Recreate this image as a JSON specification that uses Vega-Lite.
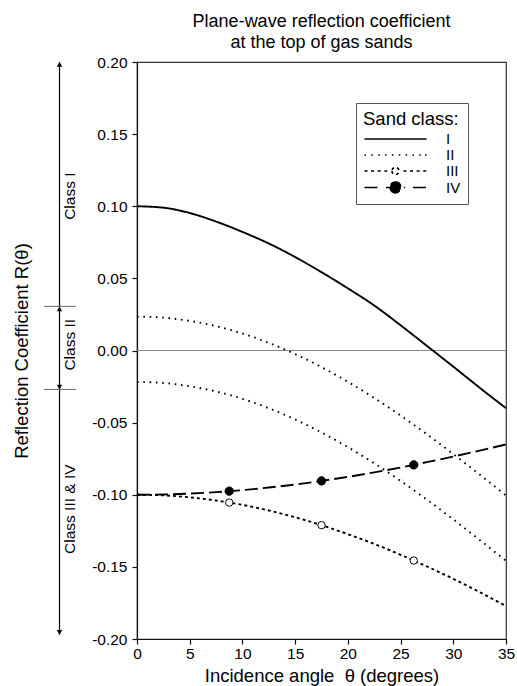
{
  "$schema": "https://vega.github.io/schema/vega-lite/v6.json",
  "width": 369,
  "height": 577,
  "autosize": {"type": "none"},
  "padding": {"left": 137, "top": 62, "right": 11, "bottom": 47},
  "background": "white",
  "title": {
    "text": ["Plane-wave reflection coefficient", "at the top of gas sands"],
    "anchor": "middle",
    "frame": "group",
    "fontSize": 18,
    "fontWeight": "normal",
    "font": "Liberation Sans",
    "color": "black",
    "lineHeight": 21,
    "offset": 3
  },
  "config": {
    "font": "Liberation Sans",
    "view": {"stroke": "#333", "strokeWidth": 1.2},
    "axis": {
      "grid": false,
      "domainColor": "#111",
      "domainWidth": 1.2,
      "tickColor": "#111",
      "tickSize": 5,
      "tickWidth": 1.2,
      "labelFont": "Liberation Sans",
      "labelFontSize": 15.5,
      "labelColor": "black",
      "titleFont": "Liberation Sans",
      "titleFontSize": 18.5,
      "titleFontWeight": "normal",
      "titleColor": "black"
    }
  },
  "datasets": {
    "curves": [
      {"curve": "I", "class": "I", "theta": 0, "r": 0.1},
      {"curve": "I", "class": "I", "theta": 2.5, "r": 0.099},
      {"curve": "I", "class": "I", "theta": 5, "r": 0.0953},
      {"curve": "I", "class": "I", "theta": 7.5, "r": 0.0894},
      {"curve": "I", "class": "I", "theta": 10, "r": 0.0822},
      {"curve": "I", "class": "I", "theta": 12.5, "r": 0.0742},
      {"curve": "I", "class": "I", "theta": 15, "r": 0.0648},
      {"curve": "I", "class": "I", "theta": 17.5, "r": 0.0543},
      {"curve": "I", "class": "I", "theta": 20, "r": 0.0431},
      {"curve": "I", "class": "I", "theta": 22.5, "r": 0.0312},
      {"curve": "I", "class": "I", "theta": 25, "r": 0.0175},
      {"curve": "I", "class": "I", "theta": 27.5, "r": 0.0032},
      {"curve": "I", "class": "I", "theta": 30, "r": -0.0112},
      {"curve": "I", "class": "I", "theta": 32.5, "r": -0.0258},
      {"curve": "I", "class": "I", "theta": 35, "r": -0.04},

      {"curve": "II upper", "class": "II", "theta": 0, "r": 0.0235},
      {"curve": "II upper", "class": "II", "theta": 2.5, "r": 0.0228},
      {"curve": "II upper", "class": "II", "theta": 5, "r": 0.0205},
      {"curve": "II upper", "class": "II", "theta": 7.5, "r": 0.0169},
      {"curve": "II upper", "class": "II", "theta": 10, "r": 0.0118},
      {"curve": "II upper", "class": "II", "theta": 12.5, "r": 0.0053},
      {"curve": "II upper", "class": "II", "theta": 15, "r": -0.0025},
      {"curve": "II upper", "class": "II", "theta": 17.5, "r": -0.0115},
      {"curve": "II upper", "class": "II", "theta": 20, "r": -0.0217},
      {"curve": "II upper", "class": "II", "theta": 22.5, "r": -0.0329},
      {"curve": "II upper", "class": "II", "theta": 25, "r": -0.0451},
      {"curve": "II upper", "class": "II", "theta": 27.5, "r": -0.0581},
      {"curve": "II upper", "class": "II", "theta": 30, "r": -0.0718},
      {"curve": "II upper", "class": "II", "theta": 32.5, "r": -0.086},
      {"curve": "II upper", "class": "II", "theta": 35, "r": -0.1005},

      {"curve": "II lower", "class": "II", "theta": 0, "r": -0.0218},
      {"curve": "II lower", "class": "II", "theta": 2.5, "r": -0.0225},
      {"curve": "II lower", "class": "II", "theta": 5, "r": -0.0248},
      {"curve": "II lower", "class": "II", "theta": 7.5, "r": -0.0284},
      {"curve": "II lower", "class": "II", "theta": 10, "r": -0.0335},
      {"curve": "II lower", "class": "II", "theta": 12.5, "r": -0.04},
      {"curve": "II lower", "class": "II", "theta": 15, "r": -0.0478},
      {"curve": "II lower", "class": "II", "theta": 17.5, "r": -0.0568},
      {"curve": "II lower", "class": "II", "theta": 20, "r": -0.067},
      {"curve": "II lower", "class": "II", "theta": 22.5, "r": -0.0782},
      {"curve": "II lower", "class": "II", "theta": 25, "r": -0.0904},
      {"curve": "II lower", "class": "II", "theta": 27.5, "r": -0.1034},
      {"curve": "II lower", "class": "II", "theta": 30, "r": -0.1171},
      {"curve": "II lower", "class": "II", "theta": 32.5, "r": -0.1313},
      {"curve": "II lower", "class": "II", "theta": 35, "r": -0.1458},

      {"curve": "III", "class": "III", "theta": 0, "r": -0.1},
      {"curve": "III", "class": "III", "theta": 2.5, "r": -0.1004},
      {"curve": "III", "class": "III", "theta": 5, "r": -0.1018},
      {"curve": "III", "class": "III", "theta": 7.5, "r": -0.104},
      {"curve": "III", "class": "III", "theta": 10, "r": -0.107},
      {"curve": "III", "class": "III", "theta": 12.5, "r": -0.1109},
      {"curve": "III", "class": "III", "theta": 15, "r": -0.1156},
      {"curve": "III", "class": "III", "theta": 17.5, "r": -0.1211},
      {"curve": "III", "class": "III", "theta": 20, "r": -0.1273},
      {"curve": "III", "class": "III", "theta": 22.5, "r": -0.1341},
      {"curve": "III", "class": "III", "theta": 25, "r": -0.1416},
      {"curve": "III", "class": "III", "theta": 27.5, "r": -0.1497},
      {"curve": "III", "class": "III", "theta": 30, "r": -0.1583},
      {"curve": "III", "class": "III", "theta": 32.5, "r": -0.1675},
      {"curve": "III", "class": "III", "theta": 35, "r": -0.1772},

      {"curve": "IV", "class": "IV", "theta": 0, "r": -0.1},
      {"curve": "IV", "class": "IV", "theta": 2.5, "r": -0.0998},
      {"curve": "IV", "class": "IV", "theta": 5, "r": -0.0992},
      {"curve": "IV", "class": "IV", "theta": 7.5, "r": -0.0982},
      {"curve": "IV", "class": "IV", "theta": 10, "r": -0.0968},
      {"curve": "IV", "class": "IV", "theta": 12.5, "r": -0.095},
      {"curve": "IV", "class": "IV", "theta": 15, "r": -0.0929},
      {"curve": "IV", "class": "IV", "theta": 17.5, "r": -0.0904},
      {"curve": "IV", "class": "IV", "theta": 20, "r": -0.0876},
      {"curve": "IV", "class": "IV", "theta": 22.5, "r": -0.0845},
      {"curve": "IV", "class": "IV", "theta": 25, "r": -0.0811},
      {"curve": "IV", "class": "IV", "theta": 27.5, "r": -0.0774},
      {"curve": "IV", "class": "IV", "theta": 30, "r": -0.0735},
      {"curve": "IV", "class": "IV", "theta": 32.5, "r": -0.0694},
      {"curve": "IV", "class": "IV", "theta": 35, "r": -0.0651}
    ],
    "markers": [
      {"class": "III", "theta": 8.75, "r": -0.1054},
      {"class": "III", "theta": 17.5, "r": -0.1211},
      {"class": "III", "theta": 26.25, "r": -0.1456},
      {"class": "IV", "theta": 8.75, "r": -0.0975},
      {"class": "IV", "theta": 17.5, "r": -0.0904},
      {"class": "IV", "theta": 26.25, "r": -0.0793}
    ],
    "classRanges": [
      {"label": "Class I", "from": 0.0306, "to": 0.2, "at": 0.107},
      {"label": "Class II", "from": -0.027, "to": 0.0306, "at": 0.004},
      {"label": "Class III & IV", "from": -0.197, "to": -0.027, "at": -0.11}
    ],
    "zero": [{"r": 0}]
  },
  "layer": [
    {
      "data": {"name": "zero"},
      "mark": {"type": "rule", "color": "#888", "strokeWidth": 1},
      "encoding": {
        "y": {"field": "r", "type": "quantitative", "scale": {"domain": [-0.2, 0.2], "nice": false}}
      }
    },
    {
      "data": {"name": "curves"},
      "mark": {"type": "line", "interpolate": "monotone", "strokeWidth": 1.9, "strokeCap": "butt"},
      "encoding": {
        "x": {
          "field": "theta", "type": "quantitative",
          "scale": {"domain": [0, 35], "nice": false},
          "axis": {"title": "Incidence angle\u00a0 θ (degrees)", "values": [0, 5, 10, 15, 20, 25, 30, 35], "labelPadding": 2, "titlePadding": 5, "labelFlush": false}
        },
        "y": {
          "field": "r", "type": "quantitative",
          "scale": {"domain": [-0.2, 0.2], "nice": false},
          "axis": {
            "title": "Reflection Coefficient R(θ)",
            "values": [-0.2, -0.15, -0.1, -0.05, 0, 0.05, 0.1, 0.15, 0.2],
            "labelExpr": "replace(format(datum.value, '.2f'), '\u2212', '-')",
            "labelPadding": 5,
            "titlePadding": 60,
            "labelFlush": false
          }
        },
        "detail": {"field": "curve"},
        "order": {"field": "theta", "type": "quantitative"},
        "strokeDash": {
          "field": "class", "type": "nominal",
          "scale": {"domain": ["I", "II", "III", "IV"], "range": [[1, 0], [1.6, 4.7], [3, 3], [13, 5]]},
          "legend": null
        },
        "stroke": {
          "field": "class", "type": "nominal",
          "scale": {"domain": ["I", "II", "III", "IV"], "range": ["#000", "#000", "#000", "#000"]},
          "legend": {
            "title": "Sand class:",
            "orient": "none",
            "legendX": 219,
            "legendY": 41,
            "padding": 7,
            "strokeColor": "#555",
            "fillColor": "white",
            "titleFont": "Liberation Sans",
            "titleFontSize": 18.5,
            "titleFontWeight": "normal",
            "titleColor": "black",
            "titlePadding": 3,
            "labelFont": "Liberation Sans",
            "labelFontSize": 15,
            "labelColor": "black",
            "symbolSize": 144,
            "symbolStrokeWidth": 1.6,
            "symbolOffset": 25,
            "labelOffset": 43,
            "rowPadding": -1.5,
            "encode": {
              "symbols": {
                "update": {
                  "shape": {"signal": "datum.value === 'I' ? 'M-5.17,0H5.17' : datum.value === 'II' ? 'M-5.17,0h0.25M-4.02,0h0.25M-2.88,0h0.25M-1.74,0h0.25M-0.6,0h0.25M0.55,0h0.25M1.69,0h0.25M2.83,0h0.25M3.97,0h0.25M4.92,0h0.25' : datum.value === 'III' ? 'M-5.17,0h0.55M-4.07,0h0.55M-2.97,0h0.55M-1.87,0h0.55M1.32,0h0.55M2.42,0h0.55M3.52,0h0.55M4.62,0h0.55M-0.6,0a0.6,0.6 0 1,0 1.2,0a0.6,0.6 0 1,0 -1.2,0' : 'M-5.17,0H-2.9M-1.6,0H1.6M2.9,0H5.17M-0.9,0a0.9,0.9 0 1,0 1.8,0a0.9,0.9 0 1,0 -1.8,0'"},
                  "fill": {"signal": "datum.value === 'III' ? 'white' : datum.value === 'IV' ? 'black' : 'transparent'"},
                  "stroke": {"value": "black"},
                  "strokeWidth": {"value": 1.6},
                  "opacity": {"value": 1}
                }
              }
            }
          }
        }
      }
    },
    {
      "data": {"name": "markers"},
      "transform": [{"filter": "datum.class === 'III'"}],
      "mark": {"type": "circle", "size": 55, "fill": "white", "stroke": "black", "strokeWidth": 1, "opacity": 1},
      "encoding": {
        "x": {"field": "theta", "type": "quantitative", "scale": {"domain": [0, 35], "nice": false}},
        "y": {"field": "r", "type": "quantitative", "scale": {"domain": [-0.2, 0.2], "nice": false}}
      }
    },
    {
      "data": {"name": "markers"},
      "transform": [{"filter": "datum.class === 'IV'"}],
      "mark": {"type": "circle", "size": 70, "fill": "black", "stroke": "black", "strokeWidth": 1, "opacity": 1},
      "encoding": {
        "x": {"field": "theta", "type": "quantitative", "scale": {"domain": [0, 35], "nice": false}},
        "y": {"field": "r", "type": "quantitative", "scale": {"domain": [-0.2, 0.2], "nice": false}}
      }
    },
    {
      "data": {"name": "classRanges"},
      "mark": {"type": "rule", "color": "black", "strokeWidth": 1.2},
      "encoding": {
        "x": {"datum": -7.35, "type": "quantitative", "scale": {"domain": [0, 35], "nice": false}},
        "y": {"field": "from", "type": "quantitative", "scale": {"domain": [-0.2, 0.2], "nice": false}},
        "y2": {"field": "to"}
      }
    },
    {
      "data": {"name": "classRanges"},
      "transform": [{"filter": "datum.label !== 'Class III & IV'"}],
      "mark": {"type": "rule", "color": "#666", "strokeWidth": 1},
      "encoding": {
        "x": {"datum": -8.82, "type": "quantitative", "scale": {"domain": [0, 35], "nice": false}},
        "x2": {"datum": -5.79},
        "y": {"field": "from", "type": "quantitative", "scale": {"domain": [-0.2, 0.2], "nice": false}}
      }
    },
    {
      "data": {"name": "classRanges"},
      "transform": [{"filter": "datum.label !== 'Class III & IV'"}],
      "mark": {"type": "point", "shape": "triangle-up", "filled": true, "size": 30, "color": "black", "opacity": 1, "yOffset": 2.4},
      "encoding": {
        "x": {"datum": -7.35, "type": "quantitative", "scale": {"domain": [0, 35], "nice": false}},
        "y": {"field": "to", "type": "quantitative", "scale": {"domain": [-0.2, 0.2], "nice": false}}
      }
    },
    {
      "data": {"name": "classRanges"},
      "transform": [{"filter": "datum.label !== 'Class I'"}],
      "mark": {"type": "point", "shape": "triangle-down", "filled": true, "size": 30, "color": "black", "opacity": 1, "yOffset": -2.4},
      "encoding": {
        "x": {"datum": -7.35, "type": "quantitative", "scale": {"domain": [0, 35], "nice": false}},
        "y": {"field": "from", "type": "quantitative", "scale": {"domain": [-0.2, 0.2], "nice": false}}
      }
    },
    {
      "data": {"name": "classRanges"},
      "mark": {"type": "text", "angle": 270, "align": "center", "baseline": "middle", "fontSize": 15.5, "font": "Liberation Sans", "color": "black"},
      "encoding": {
        "x": {"datum": -6.35, "type": "quantitative", "scale": {"domain": [0, 35], "nice": false}},
        "y": {"field": "at", "type": "quantitative", "scale": {"domain": [-0.2, 0.2], "nice": false}},
        "text": {"field": "label"}
      }
    }
  ]
}
